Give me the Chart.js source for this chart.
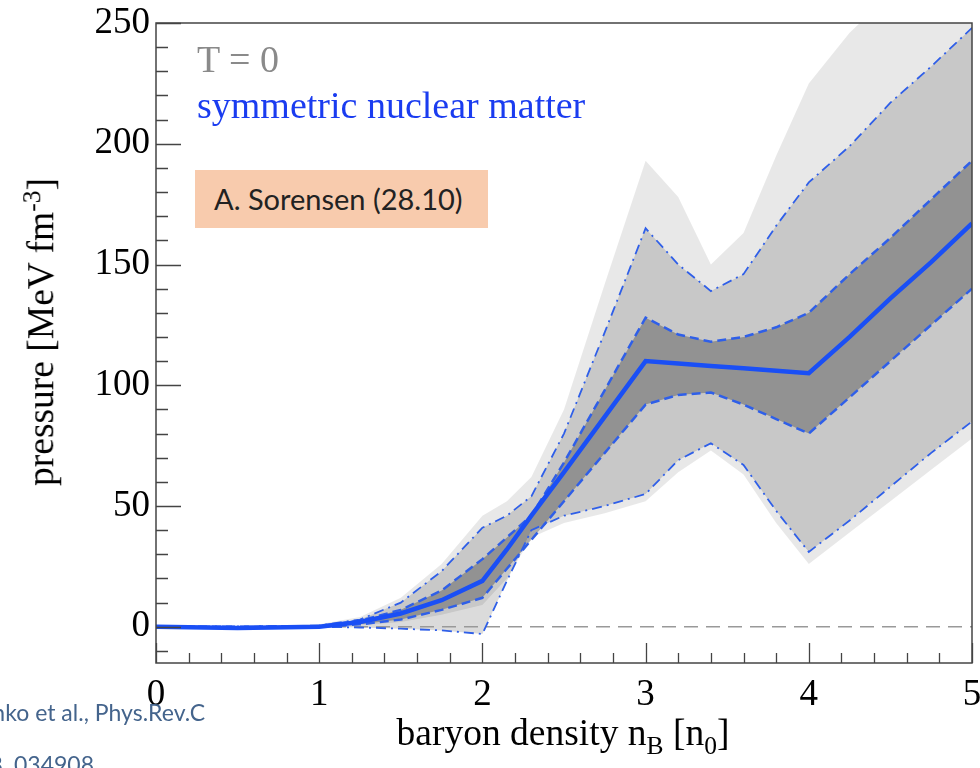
<!DOCTYPE html>
<html>
<head>
<meta charset="utf-8">
<script src="https://cdn.jsdelivr.net/npm/chart.js@4/dist/chart.umd.min.js"></script>
<style>
  body { margin: 0; width: 980px; height: 768px; overflow: hidden; position: relative; background: #fff; }
  #chart { position: absolute; left: 0; top: 0; }
  .serif { font-family: "Liberation Serif", "DejaVu Serif", serif; font-size: 38px; white-space: nowrap; position: absolute; line-height: 1; }
  .note { font-family: Lato, "Open Sans", sans-serif; white-space: nowrap; position: absolute; line-height: 1; }
  sub, sup { font-size: 68%; line-height: 0; }
</style>
</head>
<body>
<canvas id="chart" width="980" height="768"></canvas>

<div class="serif" style="left:197px; top:40px; color:#8a8a8a;">T = 0</div>
<div class="serif" style="left:197px; top:86px; color:#1a3cf0;">symmetric nuclear matter</div>
<div class="note" style="left:195px; top:170px; width:293px; height:58px; background:#f8cbad; color:#222; font-size:29px; line-height:58px; padding-left:19px; box-sizing:border-box;">A. Sorensen (28.10)</div>

<div class="serif" style="left:41px; top:332px; font-size:37.5px; transform: translate(-50%, -50%) rotate(-90deg);">pressure [MeV fm<sup>-3</sup>]</div>
<div class="serif" style="left:563px; top:714px; font-size:37.5px; transform: translateX(-50%);">baryon density n<sub>B</sub> [n<sub>0</sub>]</div>

<div class="note" style="right:775px; top:701px; font-size:23px; color:#44648c;">Oliinychenko et al., Phys.Rev.C</div>
<div class="note" style="right:886px; top:753px; font-size:23px; color:#44648c;">108, 034908</div>

<script>
// baryon density grid (units of n0) shared by all curves
const densityGrid = [0, 0.5, 1, 1.25, 1.5, 1.75, 2, 2.15, 2.3, 2.5, 2.75, 3, 3.2, 3.4, 3.6, 3.8, 4, 4.25, 4.5, 4.75, 5];

// pressure [MeV fm^-3]
const medianPressure = [0, -0.5, 0, 2, 5.5, 11, 19, 32, 46, 64, 87, 110, 109, 108, 107, 106, 105, 120, 136, 151, 167];
const band68Upper    = [0, 0, 0.3, 2.5, 7, 15, 28, 37, 46, 68, 98, 128, 121, 118, 120, 124, 130, 146, 161, 177, 193];
const band68Lower    = [0, -0.5, 0, 1, 3, 7, 12, 24, 36, 52, 72, 92, 96, 97, 92, 86, 80, 95, 110, 125, 140];
const band95Upper    = [0, 0, 0.5, 3, 10, 23, 41, 46, 54, 80, 122, 165, 150, 139, 146, 166, 184, 199, 217, 232, 248];
const band95Lower    = [0, 0, 0, -0.3, -0.8, -1.5, -3, 19, 40, 46, 50, 55, 69, 76, 67, 48, 31, 44, 58, 72, 85];
const cloudUpper     = [0, 0, 1, 4, 12, 26, 46, 52, 62, 90, 142, 193, 178, 150, 163, 195, 225, 246, 262, 275, 290];
const cloudLower     = [0, -0.5, 0, 0.5, 2, 5, 9, 20, 37, 43, 47, 52, 64, 73, 63, 43, 26, 39, 52, 65, 78];
const zeroLine       = [0, 0];
const zeroLineX      = [0, 5];

const xTickLabels = ['0', '1', '2', '3', '4', '5'];
const yTickLabels = ['0', '50', '100', '150', '200', '250'];

function pts(xs, ys) {
    return xs.map((x, i) => ({ x: x, y: ys[i] }));
}

const blue = '#1a4ff5';
const blueDash = '#2f5fe8';

// inside ticks + frame, ROOT style
const frameTicks = {
    id: 'frameTicks',
    afterDraw(chart) {
        const { ctx, chartArea: a, scales } = chart;
        ctx.save();
        ctx.strokeStyle = '#444';
        ctx.lineWidth = 1.5;
        ctx.strokeRect(a.left, a.top, a.right - a.left, a.bottom - a.top);
        ctx.lineWidth = 1.3;
        ctx.beginPath();
        for (let v = -10; v <= 250; v += 10) {
            const y = Math.round(scales.y.getPixelForValue(v)) + 0.5;
            const len = (v % 50 === 0) ? 25 : 12;
            ctx.moveTo(a.left, y);
            ctx.lineTo(a.left + len, y);
        }
        for (let i = 0; i <= 25; i++) {
            const v = i * 0.2;
            const x = Math.round(scales.x.getPixelForValue(v)) + 0.5;
            const len = (i % 5 === 0) ? 20 : 10;
            ctx.moveTo(x, a.bottom);
            ctx.lineTo(x, a.bottom - len);
        }
        ctx.stroke();
        ctx.restore();
    }
};

const tickFont = { family: '"Liberation Serif", serif', size: 37 };

new Chart(document.getElementById('chart'), {
    type: 'line',
    data: {
        datasets: [
            { data: pts(densityGrid, medianPressure), borderColor: blue, borderWidth: 4.5, fill: false },
            { data: pts(densityGrid, band68Upper), borderColor: blueDash, borderWidth: 2.5, borderDash: [9, 5],
              fill: 2, backgroundColor: 'rgba(0,0,0,0.27)' },
            { data: pts(densityGrid, band68Lower), borderColor: blueDash, borderWidth: 2.5, borderDash: [9, 5], fill: false },
            { data: pts(densityGrid, band95Upper), borderColor: blueDash, borderWidth: 1.8, borderDash: [10, 5, 2, 5],
              fill: 4, backgroundColor: 'rgba(0,0,0,0.14)' },
            { data: pts(densityGrid, band95Lower), borderColor: blueDash, borderWidth: 1.8, borderDash: [10, 5, 2, 5], fill: false },
            { data: pts(zeroLineX, zeroLine), borderColor: '#999', borderWidth: 1.5, borderDash: [14, 8], fill: false },
            { data: pts(densityGrid, cloudUpper), borderWidth: 0, borderColor: 'rgba(0,0,0,0)',
              fill: 7, backgroundColor: 'rgba(0,0,0,0.09)' },
            { data: pts(densityGrid, cloudLower), borderWidth: 0, borderColor: 'rgba(0,0,0,0)', fill: false }
        ]
    },
    options: {
        responsive: false,
        animation: false,
        devicePixelRatio: 1,
        layout: { padding: { top: 23, right: 8, left: 0, bottom: 0 } },
        elements: { point: { radius: 0 }, line: { tension: 0 } },
        plugins: {
            legend: { display: false },
            tooltip: { enabled: false },
            filler: { drawTime: 'beforeDatasetsDraw' }
        },
        scales: {
            x: {
                type: 'linear',
                min: 0,
                max: 5,
                grid: { display: false, drawTicks: false },
                border: { display: false },
                afterBuildTicks: s => { s.ticks = xTickLabels.map(t => ({ value: parseFloat(t) })); },
                afterFit: s => { s.height = 105; s.paddingLeft = 0; s.paddingRight = 0; },
                ticks: { font: tickFont, color: '#000', padding: 10, maxRotation: 0,
                         callback: v => xTickLabels[xTickLabels.indexOf(String(v))] }
            },
            y: {
                type: 'linear',
                min: -15,
                max: 250,
                grid: { display: false, drawTicks: false },
                border: { display: false },
                afterBuildTicks: s => { s.ticks = yTickLabels.map(t => ({ value: parseFloat(t) })); },
                afterFit: s => { s.width = 156; s.paddingTop = 0; s.paddingBottom = 0; },
                ticks: { font: tickFont, color: '#000', padding: 6,
                         callback: v => yTickLabels[yTickLabels.indexOf(String(v))] }
            }
        }
    },
    plugins: [frameTicks]
});
</script>
</body>
</html>
